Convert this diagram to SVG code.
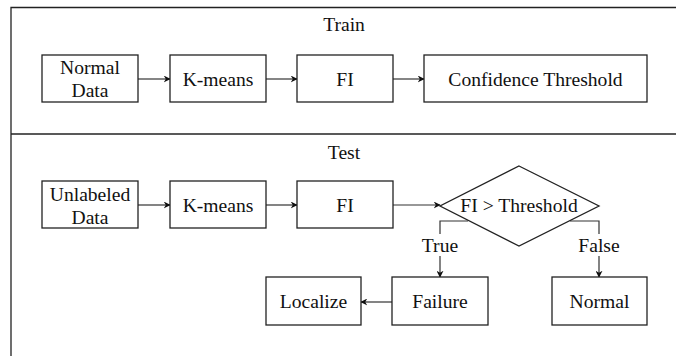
<svg xmlns="http://www.w3.org/2000/svg" width="676" height="356" viewBox="0 0 676 356">
  <style>
    .box { fill: #ffffff; stroke: #222222; stroke-width: 1.3; }
    .frame { fill: none; stroke: #222222; stroke-width: 1.3; }
    .edge { fill: none; stroke: #333333; stroke-width: 1.2; }
    .lbl { font-family: "Liberation Serif", "Times New Roman", serif; font-size: 19.6px; fill: #111111; text-anchor: middle; }
  </style>
  <defs>
    <marker id="arrow" viewBox="0 0 10 10" refX="9" refY="5" markerWidth="7" markerHeight="7" markerUnits="userSpaceOnUse" orient="auto">
      <path d="M0,0 L10,5 L0,10 L3,5 Z" fill="#111111"/>
    </marker>
  </defs>
  <rect width="676" height="356" fill="#ffffff"/>

  <!-- outer frame: open on the right and bottom, split into two panels -->
  <g id="frame">
    <path class="frame" d="M676,7.5 H11 V356"/>
    <line class="frame" x1="11" y1="134" x2="676" y2="134"/>
    <text class="lbl" x="344" y="31">Train</text>
    <text class="lbl" x="344" y="159">Test</text>
  </g>

  <!-- connectors -->
  <g id="connectors">
    <line class="edge" x1="138" y1="79" x2="170" y2="79" marker-end="url(#arrow)"/>
    <line class="edge" x1="266" y1="79" x2="297" y2="79" marker-end="url(#arrow)"/>
    <line class="edge" x1="393" y1="79" x2="424" y2="79" marker-end="url(#arrow)"/>

    <line class="edge" x1="138" y1="205" x2="170" y2="205" marker-end="url(#arrow)"/>
    <line class="edge" x1="266" y1="205" x2="297" y2="205" marker-end="url(#arrow)"/>
    <line class="edge" x1="393" y1="205" x2="440" y2="205" marker-end="url(#arrow)"/>

    <path class="edge" d="M468,221 H440 V277" marker-end="url(#arrow)"/>
    <path class="edge" d="M570,221 H599 V277" marker-end="url(#arrow)"/>
    <line class="edge" x1="392" y1="302" x2="361" y2="302" marker-end="url(#arrow)"/>

    <rect x="420" y="234" width="40" height="22" fill="#ffffff"/>
    <text class="lbl" x="440" y="252">True</text>
    <rect x="576" y="234" width="46" height="22" fill="#ffffff"/>
    <text class="lbl" x="599" y="252">False</text>
  </g>

  <!-- training pipeline -->
  <g id="normal-data">
    <rect class="box" x="42" y="55" width="96" height="47"/>
    <text class="lbl" x="90" y="74">Normal</text>
    <text class="lbl" x="90" y="97">Data</text>
  </g>
  <g id="train-kmeans">
    <rect class="box" x="170" y="55" width="96" height="47"/>
    <text class="lbl" x="218" y="86">K-means</text>
  </g>
  <g id="train-fi">
    <rect class="box" x="297" y="55" width="96" height="47"/>
    <text class="lbl" x="345" y="86">FI</text>
  </g>
  <g id="confidence-threshold">
    <rect class="box" x="424" y="55" width="223" height="47"/>
    <text class="lbl" x="535.5" y="86">Confidence Threshold</text>
  </g>

  <!-- test pipeline -->
  <g id="unlabeled-data">
    <rect class="box" x="42" y="181" width="96" height="47"/>
    <text class="lbl" x="90" y="201">Unlabeled</text>
    <text class="lbl" x="90" y="224">Data</text>
  </g>
  <g id="test-kmeans">
    <rect class="box" x="170" y="181" width="96" height="47"/>
    <text class="lbl" x="218" y="212">K-means</text>
  </g>
  <g id="test-fi">
    <rect class="box" x="297" y="181" width="96" height="47"/>
    <text class="lbl" x="345" y="212">FI</text>
  </g>
  <g id="decision">
    <polygon class="box" points="519,166 599,206 519,246 440,206"/>
    <text class="lbl" x="519" y="212">FI &gt; Threshold</text>
  </g>
  <g id="failure">
    <rect class="box" x="392" y="277" width="96" height="48"/>
    <text class="lbl" x="440" y="308">Failure</text>
  </g>
  <g id="localize">
    <rect class="box" x="266" y="277" width="95" height="48"/>
    <text class="lbl" x="313.5" y="308">Localize</text>
  </g>
  <g id="normal">
    <rect class="box" x="552" y="277" width="95" height="48"/>
    <text class="lbl" x="599.5" y="308">Normal</text>
  </g>
</svg>
